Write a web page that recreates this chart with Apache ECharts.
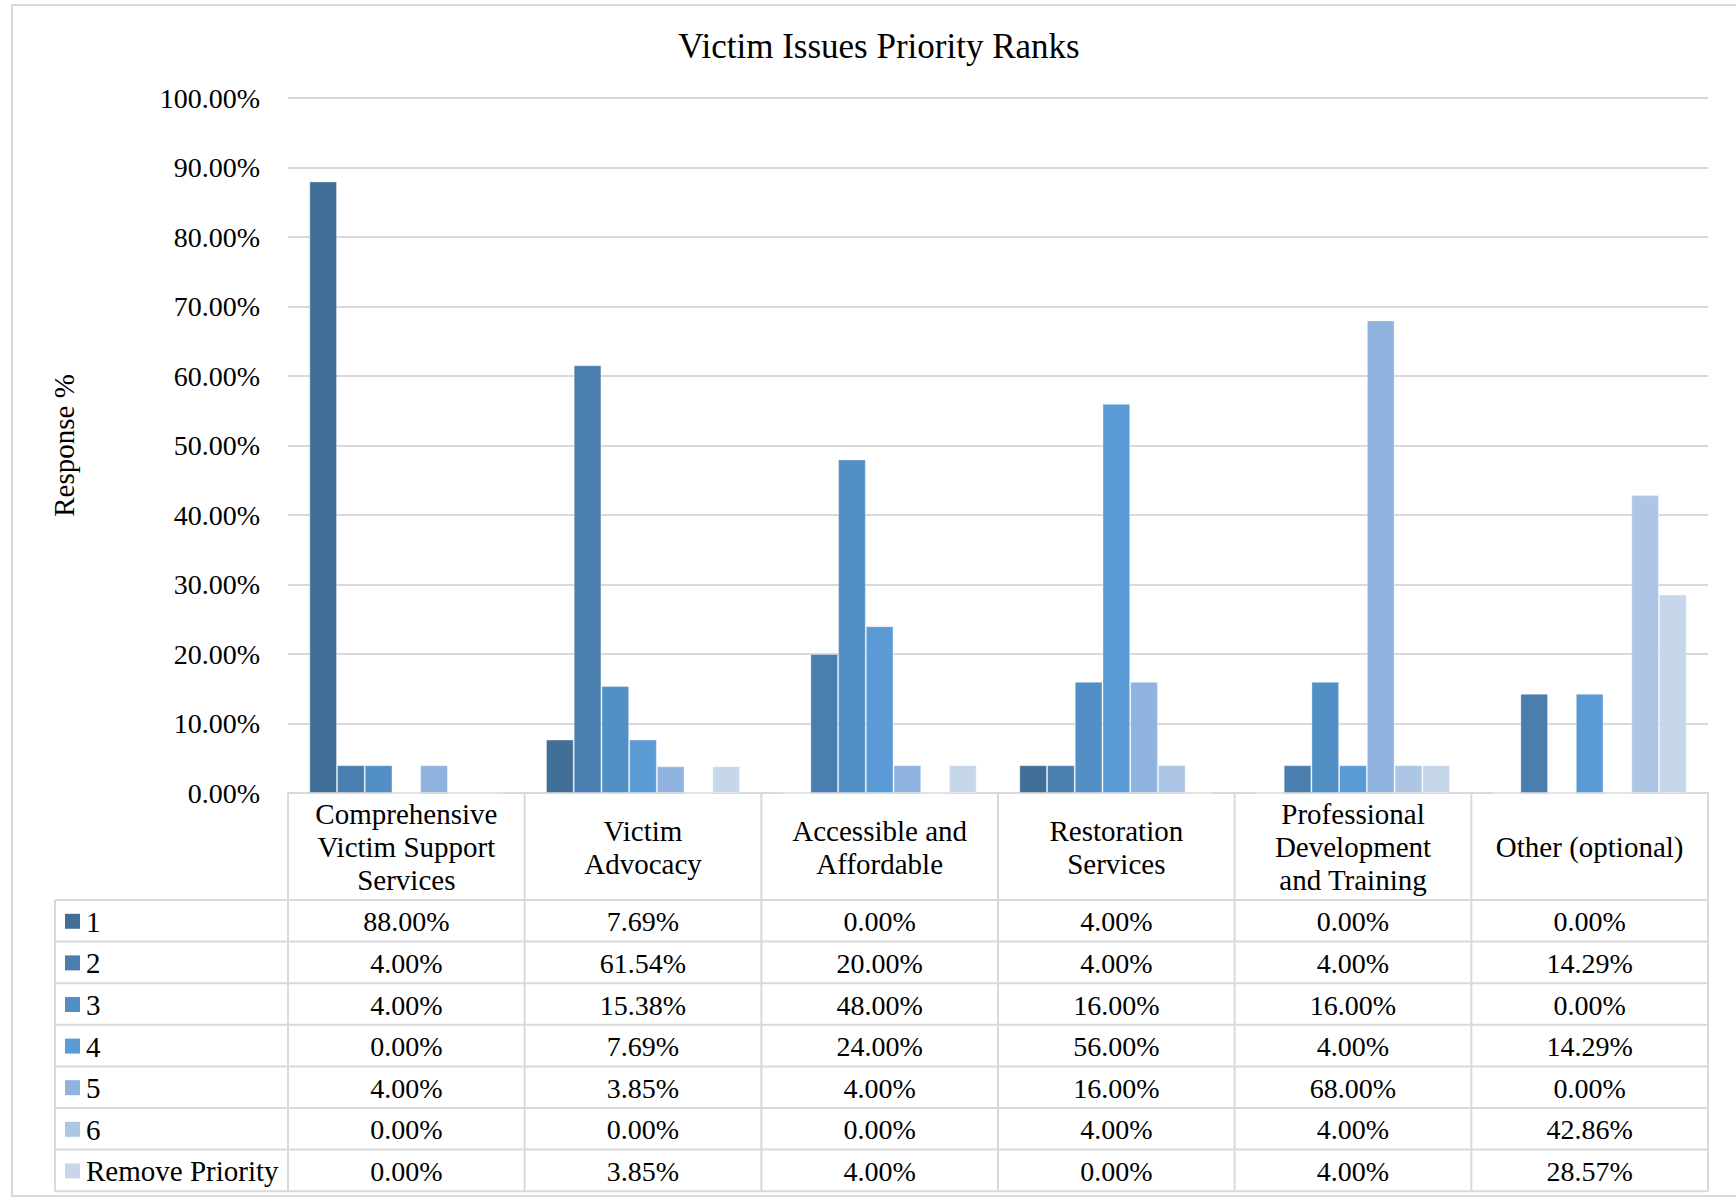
<!DOCTYPE html>
<html>
<head>
<meta charset="utf-8">
<script src="https://cdn.jsdelivr.net/npm/echarts@6/dist/echarts.min.js"></script>
<style>
    html, body { margin: 0; padding: 0; background: #fff; }
    #chart { width: 1736px; height: 1199px; }
</style>
</head>
<body>
<div id="chart"></div>
<script>
// chart data
const categories = [
    "Comprehensive\nVictim Support\nServices",
    "Victim\nAdvocacy",
    "Accessible and\nAffordable",
    "Restoration\nServices",
    "Professional\nDevelopment\nand Training",
    "Other (optional)"
]
const seriesNames = ["1", "2", "3", "4", "5", "6", "Remove Priority"]
const rank1 = [88.00, 7.69, 0.00, 4.00, 0.00, 0.00]
const rank2 = [4.00, 61.54, 20.00, 4.00, 4.00, 14.29]
const rank3 = [4.00, 15.38, 48.00, 16.00, 16.00, 0.00]
const rank4 = [0.00, 7.69, 24.00, 56.00, 4.00, 14.29]
const rank5 = [4.00, 3.85, 4.00, 16.00, 68.00, 0.00]
const rank6 = [0.00, 0.00, 0.00, 4.00, 4.00, 42.86]
const removePriority = [0.00, 3.85, 4.00, 0.00, 4.00, 28.57]
const yTicks = [0, 10, 20, 30, 40, 50, 60, 70, 80, 90, 100]

const allSeries = [rank1, rank2, rank3, rank4, rank5, rank6, removePriority]
const colors = ["#416F98", "#4A7EAF", "#528FC4", "#5B9BD5", "#8FB3DE", "#ADC6E5", "#C6D7EC"]

const FONT = '"Liberation Serif", "Times New Roman", serif'
const lineColor = "#d9d9d9"

// layout
const W = 1736
const gridLeft = 288
const gridRight = 1708
const gridTop = 98
const gridBottom = 793
const headerBottom = 900
const rowH = 41.6
const tableLeft = 55
const colW = (gridRight - gridLeft) / categories.length

const charts = echarts.init(document.getElementById("chart"), null, { renderer: "svg" })

function buildTable() {
    const els = []
    const tableBottom = headerBottom + rowH * seriesNames.length
    // outer frame
    els.push({
        type: "rect",
        shape: { x: 12, y: 5, width: W, height: 1191 },
        style: { fill: null, stroke: lineColor, lineWidth: 2 }
    })
    // vertical lines of category columns
    for (let i = 0; i <= categories.length; i++) {
        const x = gridLeft + colW * i
        els.push({
            type: "line",
            shape: { x1: x, y1: gridBottom, x2: x, y2: tableBottom },
            style: { stroke: lineColor, lineWidth: 2 }
        })
    }
    // left edge of legend column
    els.push({
        type: "line",
        shape: { x1: tableLeft, y1: headerBottom, x2: tableLeft, y2: tableBottom },
        style: { stroke: lineColor, lineWidth: 2 }
    })
    // horizontal lines
    for (let r = 0; r <= seriesNames.length; r++) {
        const y = headerBottom + rowH * r
        els.push({
            type: "line",
            shape: { x1: tableLeft, y1: y, x2: gridRight, y2: y },
            style: { stroke: lineColor, lineWidth: 2 }
        })
    }
    // rows
    seriesNames.forEach((name, r) => {
        const cy = headerBottom + rowH * r + rowH / 2
        els.push({
            type: "rect",
            shape: { x: 65, y: cy - 7, width: 15, height: 15 },
            style: { fill: colors[r] }
        })
        els.push({
            type: "text",
            style: {
                text: name, x: 86, y: cy + 1,
                verticalAlign: "middle", align: "left",
                font: "29px " + FONT, fill: "#000"
            }
        })
        allSeries[r].forEach((v, c) => {
            els.push({
                type: "text",
                style: {
                    text: v.toFixed(2) + "%",
                    x: gridLeft + colW * c + colW / 2, y: cy + 1,
                    verticalAlign: "middle", align: "center",
                    font: "28px " + FONT, fill: "#000"
                }
            })
        })
    })
    return els
}

const option = {
    backgroundColor: "#fff",
    animation: false,
    title: {
        text: "Victim Issues Priority Ranks",
        left: 874,
        textAlign: "center",
        top: 24,
        textStyle: { fontFamily: FONT, fontSize: 35, fontWeight: "normal", color: "#000" }
    },
    grid: {
        left: gridLeft,
        right: W - gridRight,
        top: gridTop,
        bottom: 1199 - gridBottom,
        containLabel: false
    },
    xAxis: {
        type: "category",
        data: categories,
        axisLine: { show: true, lineStyle: { color: lineColor, width: 2 } },
        axisTick: { show: false },
        axisLabel: {
            interval: 0,
            margin: 54,
            verticalAlign: "middle",
            lineHeight: 33,
            fontFamily: FONT,
            fontSize: 29,
            color: "#000"
        }
    },
    yAxis: {
        type: "value",
        min: yTicks[0],
        max: yTicks[yTicks.length - 1],
        interval: 10,
        name: "Response %",
        nameLocation: "middle",
        nameRotate: 90,
        nameGap: 210,
        nameTextStyle: { fontFamily: FONT, fontSize: 29, color: "#000" },
        axisLine: { show: false },
        axisTick: { show: false },
        axisLabel: {
            margin: 28,
            fontFamily: FONT,
            fontSize: 28,
            color: "#000",
            formatter: v => v.toFixed(2) + "%"
        },
        splitLine: { lineStyle: { color: lineColor, width: 2 } }
    },
    series: seriesNames.map((name, i) => ({
        name: name,
        type: "bar",
        data: allSeries[i],
        barGap: "0%",
        barCategoryGap: "18%",
        itemStyle: { color: colors[i], borderColor: "rgba(255,255,255,0.35)", borderWidth: 1 }
    })),
    graphic: buildTable()
}

charts.setOption(option, true)
</script>
</body>
</html>
